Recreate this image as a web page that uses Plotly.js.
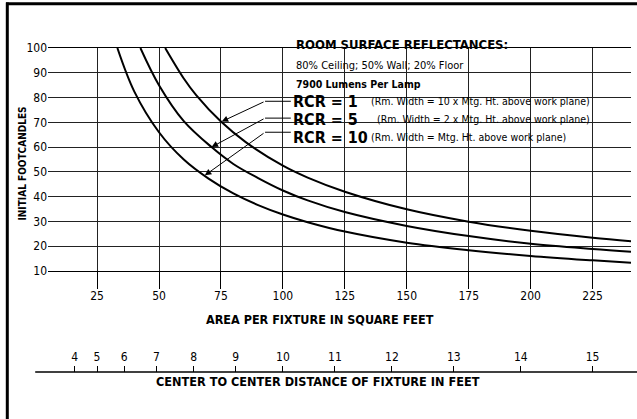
<!DOCTYPE html>
<html>
<head>
<meta charset="utf-8">
<script src="https://cdn.plot.ly/plotly-3.0.1.min.js"></script>
<style>
html,body{margin:0;padding:0;background:#fff;}
#chart{width:637px;height:419px;}
</style>
</head>
<body>
<div id="chart"></div>
<script>
// ---- data ----
const rcr1Area = [52.5, 60, 65, 75, 85, 100, 110, 125, 150, 175, 200, 225, 240.5];
const rcr1Fc   = [100, 87.7, 81, 70.3, 62, 52.5, 47.7, 42, 34.9, 29.9, 26.2, 23.4, 22.0];

const rcr5Area = [42.5, 50, 60, 71.2, 80, 90, 100, 110, 125, 150, 175, 200, 225, 240.5];
const rcr5Fc   = [100, 85, 70.5, 60, 53.2, 47.5, 42.5, 38.5, 33.8, 28.2, 24.1, 21, 18.9, 17.8];

const rcr10Area = [33.2, 40, 50, 60, 70, 80, 90, 100, 110, 125, 150, 175, 200, 225, 240.5];
const rcr10Fc   = [100, 82.5, 66, 55, 47.3, 41.3, 36.6, 32.8, 29.7, 25.9, 21.4, 18.4, 16.1, 14.3, 13.3];

const areaTicks = [25, 50, 75, 100, 125, 150, 175, 200, 225];
const fcTicks = [10, 20, 30, 40, 50, 60, 70, 80, 90, 100];
const distanceTicks = [4, 5, 6, 7, 8, 9, 10, 11, 12, 13, 14, 15];

// ---- layout helpers (pixel -> paper) ----
const W = 637, H = 419;
const ML = 48, MR = 6, MT = 48, MB = 47;
const PW = W - ML - MR, PH = H - MT - MB;
const px = v => (v - ML) / PW;
const py = v => (H - MB - v) / PH;

const FONT = "'Liberation Sans Narrow', 'DejaVu Sans Condensed', 'Roboto Condensed', 'Arial Narrow', 'Liberation Sans', sans-serif";

function curve(x, y) {
  return {x: x, y: y, type: 'scatter', mode: 'lines',
    line: {color: '#000', width: 2, shape: 'spline', smoothing: 1},
    hoverinfo: 'skip', showlegend: false, xaxis: 'x', yaxis: 'y'};
}

const traces = [curve(rcr1Area, rcr1Fc), curve(rcr5Area, rcr5Fc), curve(rcr10Area, rcr10Fc),
  {x: distanceTicks.map(d => d * d), y: distanceTicks.map(() => 0), xaxis: 'x2', yaxis: 'y',
   type: 'scatter', mode: 'markers', marker: {opacity: 0}, hoverinfo: 'skip', showlegend: false}];

const ann = [];
function txt(text, x, y, size, opts) {
  ann.push(Object.assign({text: text, xref: 'paper', yref: 'paper', x: px(x), y: py(y),
    xanchor: 'left', yanchor: 'middle', showarrow: false,
    font: {family: FONT, size: size, color: '#000'}}, opts || {}));
}
txt('<b>ROOM SURFACE REFLECTANCES:</b>', 294, 45, 13);
txt('80% Ceiling; 50% Wall; 20% Floor', 294, 65, 11);
txt('<b>7900 Lumens Per Lamp</b>', 294, 83.5, 10.5);
txt('<b>RCR = 1</b>', 291, 101.5, 16, {height: 16});
txt('(Rm. Width = 10 x Mtg. Ht. above work plane)', 369, 101.5, 10.5);
txt('<b>RCR = 5</b>', 291, 119, 16, {height: 16});
txt('(Rm. Width = 2 x Mtg. Ht. above work plane)', 374.5, 119, 10.5);
txt('<b>RCR = 10</b>', 291, 136.5, 16, {height: 16});
txt('(Rm. Width = Mtg. Ht. above work plane)', 369, 136.5, 10.5);

// axis titles
txt('<b>AREA PER FIXTURE IN SQUARE FEET</b>', 319.5, 319.5, 12.5, {xanchor: 'center'});
txt('<b>CENTER TO CENTER DISTANCE OF FIXTURE IN FEET</b>', 318, 381.5, 12.6, {xanchor: 'center'});
txt('<b>INITIAL FOOTCANDLES</b>', 21.5, 164, 10, {xanchor: 'center', textangle: -90});

// leader arrows (tip on curve, tail at text row)
const leaders = [
  {tip: [75.3, 70.3], tail: [92.8, 78.5], end: 103.2},
  {tip: [71.2, 60.0], tail: [92.8, 71.7], end: 103.2},
  {tip: [68.5, 48.6], tail: [92.8, 66.0], end: 103.2}
];
const shapes = [];
leaders.forEach(l => {
  ann.push({x: l.tip[0], y: l.tip[1], ax: l.tail[0], ay: l.tail[1], xref: 'x', yref: 'y',
    axref: 'x', ayref: 'y', text: '', showarrow: true, arrowhead: 2, arrowsize: 1.3,
    arrowwidth: 1, arrowcolor: '#000', standoff: 0});
  shapes.push({type: 'line', xref: 'x', yref: 'y', x0: l.tail[0], x1: l.end, y0: l.tail[1], y1: l.tail[1],
    line: {color: '#000', width: 1}});
});
// frame and lower scale line
shapes.push({type: 'line', xref: 'paper', yref: 'paper', x0: px(7.3), x1: px(7.3), y0: py(2.5), y1: py(425), line: {color: '#000', width: 3}});
shapes.push({type: 'line', xref: 'paper', yref: 'paper', x0: px(6), x1: px(640), y0: py(3.8), y1: py(3.8), line: {color: '#000', width: 3}});
shapes.push({type: 'line', xref: 'paper', yref: 'paper', x0: px(35.2), x1: px(640), y0: 0, y1: 0, line: {color: '#000', width: 1.5}});

const xRange = [5.2, 240.5];
const layout = {
  width: W, height: H,
  margin: {l: ML, r: MR, t: MT, b: MB, pad: 0},
  paper_bgcolor: '#fff', plot_bgcolor: '#fff',
  font: {family: FONT, size: 12, color: '#000'},
  showlegend: false,
  xaxis: {range: xRange, tickvals: areaTicks, ticks: 'outside', ticklen: 17, tickwidth: 1, tickcolor: '#000',
    showgrid: true, gridcolor: '#222', gridwidth: 1, zeroline: false,
    showline: true, linecolor: '#000', linewidth: 1, mirror: true, ticklabelstandoff: -3,
    anchor: 'y', tickfont: {family: FONT, size: 12}, fixedrange: true},
  yaxis: {range: [10, 100], tickvals: fcTicks, domain: [py(271), 1], ticks: '',
    showgrid: true, gridcolor: '#222', gridwidth: 1, zeroline: false, showline: false,
    tickfont: {family: FONT, size: 12}, ticklabelstandoff: 0, fixedrange: true},
  xaxis2: {overlaying: 'x', anchor: 'free', position: 0, side: 'top', range: xRange,
    tickvals: distanceTicks.map(d => d * d), ticktext: distanceTicks.map(String),
    ticks: 'outside', ticklen: 6, tickwidth: 1, tickcolor: '#000', showgrid: false,
    zeroline: false, showline: false, tickfont: {family: FONT, size: 12}, fixedrange: true},
  annotations: ann,
  shapes: shapes
};

Plotly.newPlot('chart', traces, layout, {displayModeBar: false, staticPlot: true});
</script>
</body>
</html>
